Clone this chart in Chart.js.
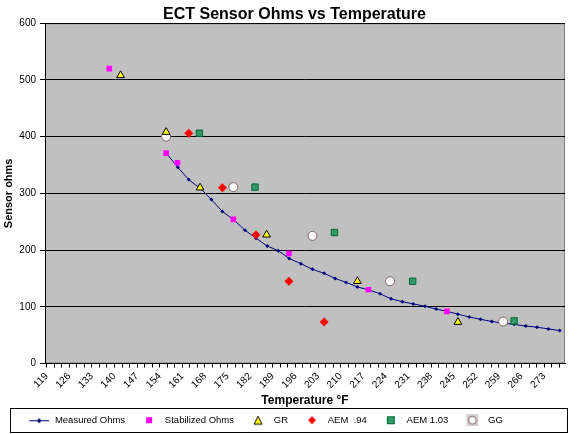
<!DOCTYPE html>
<html>
<head>
<meta charset="utf-8">
<script src="https://cdn.jsdelivr.net/npm/chart.js@4"></script>
<style>
  html, body { margin: 0; padding: 0; background: #fff; }
  #wrap { width: 580px; height: 434px; }
</style>
</head>
<body>
<div id="wrap"><canvas id="ect" width="580" height="434"></canvas></div>
<script>
// measured curve
var measuredTemps = [156, 159.6, 163, 166.5, 170, 173.4, 176.8, 180.4, 183.8, 187.3, 190.7, 194.1,
  197.7, 201.3, 204.9, 208.3, 211.7, 215.2, 218.6, 222.2, 225.6, 229.1, 232.5, 236.1,
  239.6, 242.9, 246.3, 249.8, 253.3, 256.8, 260.3, 263.7, 267.3, 270.8, 274.3, 277.8];
var measuredOhms = [371, 346, 324, 309, 289, 268, 254, 235, 221, 207, 199, 185,
  176, 166, 159, 150, 143, 135, 130, 123, 114, 109, 105, 101,
  96, 92, 87, 82, 78, 74, 71, 69, 66, 64, 61, 58];

// other sensors
var stabTemps = [138.4, 156, 159.5, 176.8, 194, 218.6, 242.9];
var stabOhms = [520, 371, 354, 254, 194, 130, 92];
var grTemps = [141.9, 156, 166.5, 187.1, 215.2, 246.3];
var grOhms = [508, 408, 310, 227, 145, 73];
var aem94Temps = [163, 173.4, 183.8, 194, 204.9];
var aem94Ohms = [406, 310, 227, 145, 73];
var aem103Temps = [166.3, 183.5, 208.1, 232.3, 263.7];
var aem103Ohms = [406, 311, 231, 145, 75];
var ggTemps = [156, 176.8, 201.3, 225.3, 260.3];
var ggOhms = [400, 311, 225, 145, 74];

var seriesNames = ["Measured Ohms", "Stabilized Ohms", "GR", "AEM  .94", "AEM 1.03", "GG"];

function pts(xs, ys) {
  return xs.map(function(x, i){ return {x: x, y: ys[i]}; });
}

// legend icons
function icon(draw) {
  var c = document.createElement("canvas");
  c.width = 22; c.height = 12;
  draw(c.getContext("2d"));
  return c;
}
var icons = [
  icon(function(g){
    g.strokeStyle = "#000080"; g.lineWidth = 1;
    g.beginPath(); g.moveTo(1, 6.5); g.lineTo(21, 6.5); g.stroke();
    g.fillStyle = "#000080";
    g.beginPath(); g.moveTo(11, 4); g.lineTo(13.5, 6.5); g.lineTo(11, 9); g.lineTo(8.5, 6.5); g.fill();
  }),
  icon(function(g){ g.fillStyle = "#FF00FF"; g.fillRect(8, 3, 6, 6); }),
  icon(function(g){
    g.fillStyle = "#FFFF00"; g.strokeStyle = "#000"; g.lineWidth = 1;
    g.beginPath(); g.moveTo(11, 2); g.lineTo(15, 10); g.lineTo(7, 10); g.closePath(); g.fill(); g.stroke();
  }),
  icon(function(g){
    g.fillStyle = "#FF0000";
    g.beginPath(); g.moveTo(11, 2); g.lineTo(15, 6); g.lineTo(11, 10); g.lineTo(7, 6); g.fill();
  }),
  icon(function(g){
    g.fillStyle = "#339966"; g.strokeStyle = "#006633";
    g.fillRect(7.5, 2.5, 7, 7); g.strokeRect(7.5, 2.5, 7, 7);
  }),
  icon(function(g){
    g.fillStyle = "#D8D0D0"; g.fillRect(5, 0, 12, 12);
    g.fillStyle = "#fff"; g.strokeStyle = "#806060"; g.lineWidth = 1;
    g.beginPath(); g.arc(11, 6, 4, 0, Math.PI * 2); g.fill(); g.stroke();
  })
];

var plotFrame = {
  id: "plotFrame",
  afterLayout: function(chart) {
    // nudge title and legend like the Excel original
    chart.titleBlock.left += 12; chart.titleBlock.right += 12;
    chart.titleBlock.top += 2; chart.titleBlock.bottom += 2;
    chart.legend.left -= 17; chart.legend.right -= 17;
    chart.legend.top += 1; chart.legend.bottom += 1;
  },
  beforeDraw: function(chart) {
    var a = chart.chartArea, c = chart.ctx;
    c.save();
    c.fillStyle = "#C0C0C0";
    c.fillRect(a.left, a.top, a.right - a.left, a.bottom - a.top);
    c.strokeStyle = "#808080"; c.lineWidth = 1;
    c.strokeRect(a.left + 0.5, a.top + 0.5, a.right - a.left - 1, a.bottom - a.top - 1);
    c.restore();
  },
  afterDraw: function(chart) {
    var c = chart.ctx;
    c.save();
    c.strokeStyle = "#000"; c.lineWidth = 1;
    c.strokeRect(10.5, 408.5, 557, 24);
    c.restore();
  }
};

Chart.defaults.font.family = "'Liberation Sans', Arial, sans-serif";
Chart.defaults.color = "#000";

new Chart("ect", {
  type: "scatter",
  data: {
    datasets: [{
      label: seriesNames[0],
      data: pts(measuredTemps, measuredOhms),
      showLine: true,
      borderColor: "#000080",
      borderWidth: 1,
      backgroundColor: "#000080",
      pointStyle: "rectRot",
      pointRadius: 2,
      pointBorderWidth: 0,
      order: 6
    }, {
      label: seriesNames[1],
      data: pts(stabTemps, stabOhms),
      backgroundColor: "#FF00FF",
      borderColor: "#FF00FF",
      pointStyle: "rect",
      pointRadius: 4,
      pointBorderWidth: 0,
      order: 5
    }, {
      label: seriesNames[2],
      data: pts(grTemps, grOhms),
      backgroundColor: "#FFFF00",
      borderColor: "#000",
      pointStyle: "triangle",
      pointRadius: 4.5,
      pointBorderWidth: 1,
      order: 1
    }, {
      label: seriesNames[3],
      data: pts(aem94Temps, aem94Ohms),
      backgroundColor: "#FF0000",
      borderColor: "#FF0000",
      pointStyle: "rectRot",
      pointRadius: 4.5,
      pointBorderWidth: 0,
      order: 3
    }, {
      label: seriesNames[4],
      data: pts(aem103Temps, aem103Ohms),
      backgroundColor: "#339966",
      borderColor: "#006633",
      pointStyle: "rect",
      pointRadius: 4.5,
      pointBorderWidth: 1,
      order: 4
    }, {
      label: seriesNames[5],
      data: pts(ggTemps, ggOhms),
      backgroundColor: "#FFFFFF",
      borderColor: "#806060",
      pointStyle: "circle",
      pointRadius: 4.5,
      pointBorderWidth: 1,
      order: 2
    }]
  },
  options: {
    responsive: false,
    animation: false,
    layout: { padding: { left: 0, right: 15, top: 0, bottom: 0 } },
    plugins: {
      title: {
        display: true,
        text: "ECT Sensor Ohms vs Temperature",
        font: { size: 16, weight: "bold" },
        padding: { top: 3, bottom: 1 }
      },
      legend: {
        position: "bottom",
        labels: {
          usePointStyle: true,
          pointStyleWidth: 22,
          padding: 13,
          font: { size: 9.5 },
          sort: function(a, b) { return a.datasetIndex - b.datasetIndex; },
          generateLabels: function(chart) {
            return Chart.defaults.plugins.legend.labels.generateLabels(chart).map(function(l){
              l.pointStyle = icons[l.datasetIndex];
              return l;
            });
          }
        }
      },
      tooltip: { enabled: false }
    },
    scales: {
      x: {
        type: "linear",
        min: 118.5,
        max: 279.45,
        afterFit: function(s){ s.height = 38; },
        border: { color: "#000" },
        grid: { drawOnChartArea: false, color: "#000", tickLength: 4 },
        ticks: {
          stepSize: 7 / 3,
          includeBounds: false,
          autoSkip: false,
          minRotation: 45,
          maxRotation: 45,
          padding: 3,
          font: { size: 10 },
          callback: function(v) {
            var k = v * 3 / 7, r = Math.round(k);
            if (Math.abs(k - r) > 1e-4) return "";
            return r % 3 === 0 ? String(Math.round(v)) : "";
          }
        },
        title: {
          display: true,
          text: "Temperature °F",
          font: { size: 12, weight: "bold" },
          padding: { top: 0, bottom: -6 }
        }
      },
      y: {
        min: 0,
        max: 600,
        afterFit: function(s){ s.width = 45; },
        border: { color: "#000" },
        grid: { color: "#000", tickLength: 5 },
        ticks: { stepSize: 100, padding: 4, font: { size: 10 } },
        title: {
          display: true,
          text: "Sensor ohms",
          font: { size: 11, weight: "bold" },
          padding: { top: 2, bottom: 0 }
        }
      }
    }
  },
  plugins: [plotFrame]
});
</script>
</body>
</html>
